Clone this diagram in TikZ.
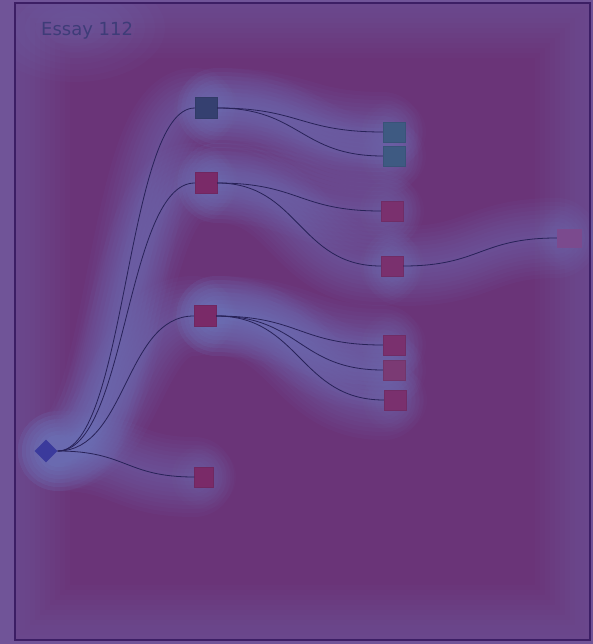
\documentclass[tikz,border=0pt]{standalone}
\usepackage{fontspec}
\setmainfont{DejaVu Sans}
\usetikzlibrary{shapes.geometric}
\pgfdeclarelayer{bgl}
\pgfdeclarelayer{glowl}
\pgfsetlayers{bgl,glowl,main}
\definecolor{outbg}{RGB}{112,84,152}
\definecolor{inbg}{RGB}{106,52,120}
\definecolor{glowc}{RGB}{108,124,194}
\definecolor{edgec}{RGB}{40,34,88}
\definecolor{framec}{RGB}{60,30,100}
\definecolor{darkblue}{RGB}{53,64,112}
\definecolor{redsq}{RGB}{122,42,104}
\definecolor{redsqb}{RGB}{122,48,110}
\definecolor{redsqc}{RGB}{123,58,116}
\definecolor{tealsq}{RGB}{62,90,130}
\definecolor{fadesq}{RGB}{123,74,142}
\definecolor{diamc}{RGB}{59,58,156}
\definecolor{textc}{RGB}{62,60,120}
\newcommand\glowedge[3]{%
  \begin{pgfonlayer}{glowl}
    \foreach \w in {80,72,...,8}{
      \draw[glowc, line width=\w pt, opacity=0.055, line cap=round]
        (#1) .. controls +(#3,0) and +(-#3,0) .. (#2);}
  \end{pgfonlayer}
  \draw[edgeline] (#1) .. controls +(#3,0) and +(-#3,0) .. (#2);}
\newcommand\glownode[1]{%
  \begin{pgfonlayer}{glowl}
    \foreach \r in {32,28,...,12}{
      \fill[glowc, opacity=0.035] (#1) circle (\r pt);}
  \end{pgfonlayer}}
\begin{document}
\begin{tikzpicture}[x=1pt,y=-1pt,
  edgeline/.style={edgec, line width=0.8pt},
  sqbox/.style={rectangle, draw=#1!92!black, line width=0.4pt, fill=#1,
    minimum width=22pt, minimum height=21pt, inner sep=0pt},
  diambox/.style={diamond, fill=diamc, minimum width=23pt, minimum height=23pt, inner sep=0pt},
  title/.style={font=\fontsize{18}{21}\selectfont, text=textc, anchor=west, inner sep=0pt}]
\useasboundingbox (0,0) rectangle (593,644);
\begin{pgfonlayer}{bgl}
  \fill[outbg] (0,0) rectangle (593,644);
  \fill[inbg] (15,3) rectangle (590,640);
  \begin{scope}
    \clip (15,3) rectangle (590,640);
    \foreach \w in {110,100,...,10}{
      \draw[glowc, line width=\w pt, opacity=0.035] (15,3) rectangle (590,640);}
    \foreach \r in {90,80,...,20}{
      \fill[glowc, opacity=0.045] (75,28) ellipse ({\r pt} and {0.6*\r pt});}
  \end{scope}
\end{pgfonlayer}
\draw[framec, line width=2pt] (15,3) rectangle (590,640);
\node[title] (ttl) at (41,31) {Essay 112};

\node[diambox] (root) at (46,451) {};
\node[sqbox=darkblue] (a) at (206,108) {};
\node[sqbox=redsq] (b) at (206,183) {};
\node[sqbox=redsq] (c) at (205,316) {};
\node[sqbox=redsq, minimum width=19pt, minimum height=20pt] (d) at (204,477) {};
\node[sqbox=tealsq, minimum height=20pt] (a1) at (394,132) {};
\node[sqbox=tealsq, minimum height=20pt] (a2) at (394,156) {};
\node[sqbox=redsqb, minimum height=20pt] (b1) at (392,211) {};
\node[sqbox=redsqb, minimum height=20pt] (b2) at (392,266) {};
\node[sqbox=fadesq, minimum width=24pt, minimum height=18pt, draw=fadesq] (b2x) at (569,238) {};
\node[sqbox=redsqb, minimum height=20pt] (c1) at (394,345) {};
\node[sqbox=redsqc, minimum height=20pt] (c2) at (394,370) {};
\node[sqbox=redsqb, minimum height=20pt] (c3) at (395,400) {};

\foreach \n in {root,a,b,c,d,a1,a2,b1,b2,b2x,c1,c2,c3}{\glownode{\n}}

\glowedge{root.east}{a.west}{69}
\glowedge{root.east}{b.west}{69}
\glowedge{root.east}{c.west}{69}
\glowedge{root.east}{d.west}{69}
\glowedge{a.east}{a1.west}{83}
\glowedge{a.east}{a2.west}{83}
\glowedge{b.east}{b1.west}{82}
\glowedge{b.east}{b2.west}{82}
\glowedge{b2.east}{b2x.west}{77}
\glowedge{c.east}{c1.west}{84}
\glowedge{c.east}{c2.west}{84}
\glowedge{c.east}{c3.west}{84}
\end{tikzpicture}
\end{document}
